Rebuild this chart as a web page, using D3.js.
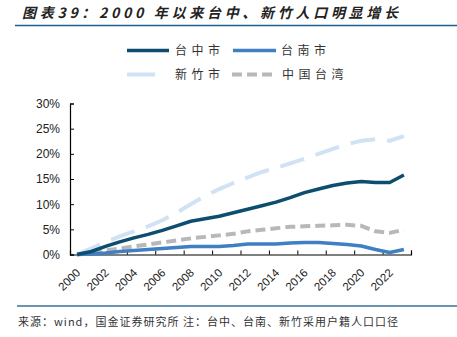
<!DOCTYPE html>
<html>
  <head>
    <meta charset="utf-8">
    <title></title>
    <script type="text/javascript" src="https://d3js.org/d3.v7.min.js"></script>
    <style media="screen">
      body { margin: 0; background: #fff; }
      svg { display: block; }
      .cjk { font-family: "Noto Sans CJK SC", sans-serif; }
      .num { font-family: "Liberation Sans", Arial, sans-serif; }
    </style>
  </head>
  <body>
    <div class="vis"></div>
    <script type="text/javascript">
      var w = 457;
      var h = 337;

      var years = d3.range(2000, 2024);
      var yTicks = [0, 5, 10, 15, 20, 25, 30];
      var xLabels = d3.range(2000, 2023, 2);

      // cumulative population growth since 2000, in %
      var taichung = [0, 0.6, 1.6, 2.5, 3.3, 4.0, 4.8, 5.7, 6.6, 7.1, 7.6, 8.3, 9.0, 9.7, 10.4, 11.3, 12.3, 13.0, 13.7, 14.2, 14.5, 14.3, 14.3, 15.8];
      var tainan = [0, 0.1, 0.3, 0.6, 0.8, 1.0, 1.2, 1.4, 1.6, 1.6, 1.6, 1.8, 2.1, 2.1, 2.1, 2.3, 2.4, 2.4, 2.2, 2.0, 1.7, 1.0, 0.4, 1.0];
      var hsinchu = [0, 1.2, 2.5, 3.6, 4.6, 5.6, 6.8, 8.3, 10.0, 11.6, 13.0, 14.2, 15.3, 16.4, 17.2, 18.1, 19.0, 20.0, 21.0, 21.9, 22.6, 22.9, 22.6, 23.5];
      var taiwan = [0, 0.4, 0.8, 1.2, 1.6, 2.0, 2.4, 2.8, 3.2, 3.5, 3.8, 4.1, 4.6, 4.9, 5.2, 5.5, 5.6, 5.7, 5.8, 5.9, 5.7, 4.6, 4.3, 4.9];

      var series = [
        { name: "新竹市", values: hsinchu, color: "#d0e2f3", width: 4, dash: "25,12" },
        { name: "中国台湾", values: taiwan, color: "#b8b8b8", width: 4, dash: "10,5" },
        { name: "台南市", values: tainan, color: "#3f7fc4", width: 3.5, dash: null },
        { name: "台中市", values: taichung, color: "#0d4e70", width: 3.5, dash: null }
      ];

      var padL = 70, padR = 411, padT = 103.5, padB = 254.5;

      var xscale = d3.scaleLinear()
        .domain([1999.5, 2023.5])
        .range([padL, padR]);
      var yscale = d3.scaleLinear()
        .domain([0, 30])
        .range([padB, padT]);

      var svg = d3.select('.vis')
        .append('svg')
        .attr('width', w)
        .attr('height', h);

      // title and rules
      svg.append('text')
        .attr('class', 'cjk')
        .attr('x', 22)
        .attr('y', 18)
        .attr('textLength', 376)
        .attr('lengthAdjust', 'spacing')
        .style('font-size', '14px')
        .style('font-weight', 'bold')
        .style('font-style', 'italic')
        .attr('fill', '#222')
        .text('图表39：2000 年以来台中、新竹人口明显增长');

      svg.append('line')
        .attr('x1', 15).attr('x2', w)
        .attr('y1', 25.5).attr('y2', 25.5)
        .attr('stroke', '#1a5f8e').attr('stroke-width', 1.5);

      svg.append('line')
        .attr('x1', 17).attr('x2', w)
        .attr('y1', 306).attr('y2', 306)
        .attr('stroke', '#3a6f98').attr('stroke-width', 1.5);

      svg.append('text')
        .attr('class', 'cjk')
        .attr('x', 18)
        .attr('y', 326)
        .attr('textLength', 380)
        .attr('lengthAdjust', 'spacing')
        .style('font-size', '11px')
        .attr('fill', '#333')
        .text('来源：wind，国金证券研究所 注：台中、台南、新竹采用户籍人口口径');

      // legend
      var legend = [
        { s: series[3], x: 127, y: 50.5, len: 42, tx: 175 },
        { s: series[2], x: 233, y: 50.5, len: 43, tx: 281 },
        { s: series[0], x: 127, y: 74.5, len: 42, tx: 175 },
        { s: series[1], x: 232, y: 74.5, len: 40, tx: 282 }
      ];
      var lg = svg.selectAll('.lg')
        .data(legend)
        .enter()
        .append('g')
        .attr('class', 'lg');
      lg.append('line')
        .attr('x1', function(d) { return d.x; })
        .attr('x2', function(d) { return d.x + d.len; })
        .attr('y1', function(d) { return d.y; })
        .attr('y2', function(d) { return d.y; })
        .attr('stroke', function(d) { return d.s.color; })
        .attr('stroke-width', function(d) { return d.s.width; })
        .attr('stroke-dasharray', function(d) { return d.s.name == "新竹市" ? "28,14" : d.s.dash; });
      lg.append('text')
        .attr('class', 'cjk')
        .attr('x', function(d) { return d.tx; })
        .attr('y', function(d) { return d.y + 4.5; })
        .style('font-size', '12px')
        .style('letter-spacing', '4.5px')
        .attr('fill', '#333')
        .text(function(d) { return d.s.name; });

      // y axis
      var yAxis = d3.axisLeft(yscale)
        .tickValues(yTicks)
        .tickSize(-4)
        .tickPadding(10)
        .tickFormat(function(d) { return d + '%'; });
      var gy = svg.append('g')
        .attr('transform', 'translate(' + padL + ',0)')
        .call(yAxis);
      gy.select('.domain').attr('stroke', '#000').attr('stroke-width', 1.2);
      gy.selectAll('.tick line').attr('stroke', '#000');
      gy.selectAll('text')
        .attr('class', 'num')
        .style('font-size', '12px')
        .attr('fill', '#222');

      // x axis: ticks on category boundaries every two years
      var xAxis = d3.axisBottom(xscale)
        .tickValues(d3.range(1999.5, 2024, 2))
        .tickSize(-4)
        .tickFormat('');
      var gx = svg.append('g')
        .attr('transform', 'translate(0,' + padB + ')')
        .call(xAxis);
      gx.select('.domain').attr('stroke', '#000').attr('stroke-width', 1.2);
      gx.selectAll('.tick line').attr('stroke', '#000');

      svg.selectAll('.xl')
        .data(xLabels)
        .enter()
        .append('text')
        .attr('class', 'num')
        .attr('text-anchor', 'end')
        .attr('transform', function(d) {
          return 'translate(' + (xscale(d) + 4) + ',' + (padB + 19) + ') rotate(-45)';
        })
        .style('font-size', '11.5px')
        .attr('fill', '#222')
        .text(function(d) { return d; });

      // lines
      var line = d3.line()
        .x(function(d, i) { return xscale(years[i]); })
        .y(function(d) { return yscale(d); });

      svg.selectAll('.series')
        .data(series)
        .enter()
        .append('path')
        .attr('class', 'series')
        .attr('d', function(d) { return line(d.values); })
        .attr('fill', 'none')
        .attr('stroke', function(d) { return d.color; })
        .attr('stroke-width', function(d) { return d.width; })
        .attr('stroke-dasharray', function(d) { return d.dash; })
        .attr('stroke-linejoin', 'round');
    </script>
  </body>
</html>
